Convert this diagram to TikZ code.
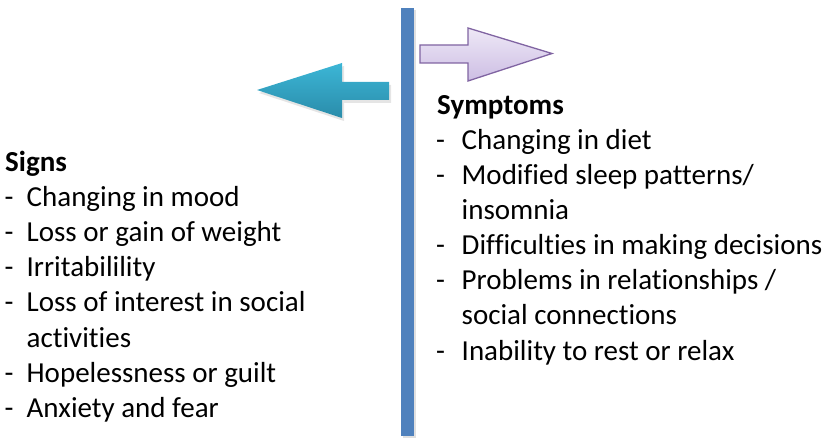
\documentclass[tikz,border=0pt]{standalone}
\usepackage{fontspec}
\setmainfont{Carlito}[Ligatures=NoCommon]
\definecolor{barblue}{HTML}{4F81BD}
\definecolor{tealtop}{HTML}{3CB6D6}
\definecolor{tealbot}{HTML}{2A8CAA}
\definecolor{lavtop}{HTML}{EEE8F6}
\definecolor{lavbot}{HTML}{CDBEE4}
\definecolor{lavline}{HTML}{8064A2}
\tikzset{
  txt/.style={anchor=base west, inner sep=0pt, font=\fontsize{29}{35}\selectfont},
  head/.style={txt, font=\fontsize{29}{35}\selectfont\bfseries},
}
\newcommand{\itm}[2]{\makebox[#1][l]{-}#2}
\begin{document}
\begin{tikzpicture}[x=1pt,y=-1pt]
\useasboundingbox (0,0) rectangle (830,438);
% vertical bar
\fill[black!12] (403,10) rectangle (416,438);
\fill[barblue] (401,8) rectangle (414,436);
% teal left arrow
\fill[black!10] (259,93) -- (344,66) -- (344,85) -- (391,85) -- (391,103) -- (344,103) -- (344,121) -- cycle;
\shade[top color=tealtop, bottom color=tealbot]
  (257,90) -- (342,63) -- (342,82) -- (389,82) -- (389,100) -- (342,100) -- (342,118) -- cycle;
% purple right arrow
\shade[top color=lavtop, bottom color=lavbot, draw=lavline, line width=1.3pt, line join=miter]
  (420,45) -- (468,45) -- (468,28) -- (552,53.5) -- (468,81) -- (468,63) -- (420,63) -- cycle;
% signs
\node[head] (s0) at (5,172) {Signs};
\node[txt] (s1) at (4.5,207) {\itm{22pt}{Changing in mood}};
\node[txt] (s2) at (4.5,242) {\itm{22pt}{Loss or gain of weight}};
\node[txt] (s3) at (4.5,277) {\itm{22pt}{Irritabilility}};
\node[txt] (s4) at (4.5,312) {\itm{22pt}{Loss of interest in social}};
\node[txt] (s5) at (26.5,347) {activities};
\node[txt] (s6) at (4.5,382) {\itm{22pt}{Hopelessness or guilt}};
\node[txt] (s7) at (4.5,417) {\itm{22pt}{Anxiety and fear}};
% symptoms
\node[head] (y0) at (437,115) {Symptoms};
\node[txt] (y1) at (436,150) {\itm{25.5pt}{Changing in diet}};
\node[txt] (y2) at (436,185) {\itm{25.5pt}{Modified sleep patterns/}};
\node[txt] (y3) at (461.5,220) {insomnia};
\node[txt] (y4) at (436,255) {\itm{25.5pt}{Difficulties in making decisions}};
\node[txt] (y5) at (436,290) {\itm{25.5pt}{Problems in relationships /}};
\node[txt] (y6) at (461.5,325) {social connections};
\node[txt] (y7) at (436,360) {\itm{25.5pt}{Inability to rest or relax}};
\end{tikzpicture}
\end{document}
